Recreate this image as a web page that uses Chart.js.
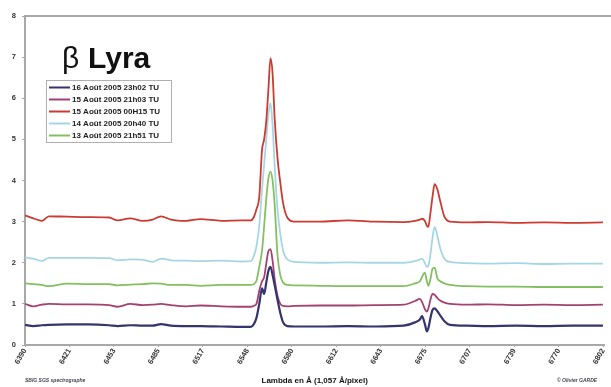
<!DOCTYPE html>
<html>
<head>
<meta charset="utf-8">
<script src="https://cdn.jsdelivr.net/npm/chart.js@4.4.1/dist/chart.umd.min.js"></script>
<style>
  html, body { margin: 0; padding: 0; background: #fff; }
  #wrap { width: 611px; height: 387px; }
</style>
</head>
<body>
<div id="wrap"><canvas id="spectre" width="611" height="387"></canvas></div>
<script>
// Wavelengths (Angstrom) sampled along the spectra
const lambda = [
    6390, 6396, 6402, 6407, 6420, 6435, 6450, 6456, 6465, 6474,
    6481, 6487, 6494, 6505, 6515, 6530, 6545, 6551, 6553, 6555,
    6557, 6559, 6560.5, 6562, 6563.5, 6565, 6566.5, 6568, 6570, 6572,
    6574, 6577, 6582, 6600, 6620, 6640, 6660, 6668, 6671.5, 6673,
    6675, 6676.5, 6677.5, 6679, 6680.5, 6682, 6684, 6686, 6689, 6693,
    6705, 6720, 6740, 6760, 6780, 6802
];

// Relative intensity, one array per night
const aout16 = [
    0.49, 0.46, 0.48, 0.49, 0.50, 0.50, 0.48, 0.46, 0.48, 0.47,
    0.47, 0.51, 0.47, 0.46, 0.46, 0.45, 0.44, 0.44, 0.50, 0.66,
    1.00, 1.38, 1.24, 1.52, 1.80, 1.90, 1.70, 1.45, 1.10, 0.78,
    0.55, 0.46, 0.45, 0.45, 0.46, 0.45, 0.47, 0.55, 0.62, 0.70,
    0.52, 0.33, 0.40, 0.65, 0.85, 0.89, 0.82, 0.72, 0.58, 0.49,
    0.47, 0.46, 0.47, 0.46, 0.47, 0.47
];
const aout15b = [
    1.00, 0.94, 0.98, 1.00, 0.99, 0.99, 0.97, 0.93, 1.00, 0.97,
    0.98, 1.00, 0.97, 0.94, 0.96, 0.94, 0.93, 0.93, 0.95, 1.00,
    1.32, 1.55, 1.65, 1.98, 2.28, 2.33, 2.05, 1.60, 1.20, 1.00,
    0.95, 0.94, 0.95, 0.96, 0.96, 0.97, 0.98, 1.07, 1.12, 1.05,
    0.88, 0.81, 0.88, 1.10, 1.24, 1.22, 1.14, 1.08, 1.03, 1.00,
    0.98, 0.99, 0.97, 0.98, 0.97, 0.98
];
const aout15a = [
    3.15, 3.08, 3.02, 3.13, 3.12, 3.11, 3.10, 3.03, 3.08, 3.02,
    3.05, 3.13, 3.05, 3.02, 3.06, 3.02, 3.03, 3.03, 3.10, 3.30,
    3.60, 4.75, 5.00, 5.45, 6.20, 6.97, 6.60, 5.50, 4.55, 3.95,
    3.45, 3.10, 3.00, 3.00, 3.03, 3.00, 2.99, 3.02, 3.05, 3.07,
    3.02, 2.90, 2.87, 3.20, 3.60, 3.91, 3.78, 3.50, 3.12, 3.00,
    2.98, 2.99, 2.97, 2.98, 2.97, 2.98
];
const aout14 = [
    2.13, 2.10, 2.04, 2.12, 2.12, 2.12, 2.11, 2.06, 2.08, 2.07,
    2.02, 2.10, 2.06, 2.05, 2.04, 2.05, 2.03, 2.04, 2.15, 2.40,
    2.90, 3.80, 4.40, 5.00, 5.60, 5.88, 5.35, 4.35, 3.30, 2.70,
    2.30, 2.08, 2.02, 2.00, 2.01, 2.00, 2.00, 2.04, 2.08, 2.10,
    2.00, 1.90, 1.92, 2.20, 2.60, 2.87, 2.65, 2.35, 2.10, 2.02,
    1.99, 1.98, 1.99, 1.97, 1.98, 1.98
];
const aout13 = [
    1.50, 1.48, 1.46, 1.43, 1.49, 1.48, 1.48, 1.45, 1.47, 1.48,
    1.50, 1.49, 1.46, 1.46, 1.44, 1.46, 1.46, 1.46, 1.48, 1.56,
    1.90, 2.30, 2.90, 3.55, 4.05, 4.21, 4.00, 3.40, 2.20, 1.70,
    1.52, 1.46, 1.45, 1.44, 1.43, 1.43, 1.43, 1.50, 1.55, 1.65,
    1.76, 1.55, 1.44, 1.60, 1.85, 1.88, 1.62, 1.55, 1.50, 1.46,
    1.43, 1.42, 1.42, 1.41, 1.41, 1.41
];

const seriesLabels = [
    "16 Août 2005 23h02 TU",
    "15 Août 2005 21h03 TU",
    "15 Août 2005 00H15 TU",
    "14 Août 2005 20h40 TU",
    "13 Août 2005 21h51 TU"
];
const seriesColors = ["#34346e", "#a34272", "#cc3b32", "#a6d6e4", "#84c062"];

// X ticks every 30 pixels (1,057 A/pixel)
const tickValues = [6390, 6421.7, 6453.4, 6485.1, 6516.8, 6548.6, 6580.3, 6612, 6643.7, 6675.4, 6707.1, 6738.8, 6770.5, 6802.2];
const tickLabels = ["6390", "6421", "6453", "6485", "6517", "6548", "6580", "6612", "6643", "6675", "6707", "6739", "6770", "6802"];

const allSeries = [aout16, aout15b, aout15a, aout14, aout13];

function toPoints(values) {
    return values.map((v, i) => ({ x: lambda[i], y: v }));
}

// Title, legend box, top frame and footer notes
const decorPlugin = {
    id: "decor",
    afterDraw(chart) {
        const ctx = chart.ctx;
        const area = chart.chartArea;
        ctx.save();

        // top border of the plot
        ctx.strokeStyle = "#a8a8a8";
        ctx.lineWidth = 2;
        ctx.beginPath();
        ctx.moveTo(area.left, area.top);
        ctx.lineTo(chart.width, area.top);
        ctx.stroke();

        // big title
        ctx.fillStyle = "#111";
        ctx.textBaseline = "alphabetic";
        ctx.textAlign = "left";
        ctx.font = "30px 'Liberation Sans', Arial, sans-serif";
        ctx.fillText("β", 62, 68);
        ctx.font = "bold 30px 'Liberation Sans', Arial, sans-serif";
        ctx.fillText("Lyra", 88, 68);

        // legend
        const bx = 46, by = 80, bw = 125, bh = 62;
        ctx.fillStyle = "#fff";
        ctx.fillRect(bx, by, bw, bh);
        ctx.strokeStyle = "#b0b0b0";
        ctx.lineWidth = 1;
        ctx.strokeRect(bx + 0.5, by + 0.5, bw, bh);
        ctx.font = "bold 8px 'Liberation Sans', Arial, sans-serif";
        ctx.textBaseline = "middle";
        chart.data.datasets.forEach((ds, i) => {
            const y = by + 7.5 + i * 12;
            ctx.strokeStyle = ds.borderColor;
            ctx.lineWidth = 2;
            ctx.beginPath();
            ctx.moveTo(bx + 3, y);
            ctx.lineTo(bx + 24, y);
            ctx.stroke();
            ctx.fillStyle = "#222";
            ctx.fillText(ds.label, bx + 26, y);
        });

        // footer notes
        ctx.font = "italic bold 5px 'Liberation Sans', Arial, sans-serif";
        ctx.fillStyle = "#445";
        ctx.textBaseline = "alphabetic";
        ctx.fillText("SBIG SGS spectrographe", 25, 382);
        ctx.fillText("© Olivier GARDE", 557, 382);
        ctx.restore();
    }
};

const ctx = document.getElementById("spectre").getContext("2d");
new Chart(ctx, {
    type: "line",
    data: {
        datasets: allSeries.map((values, i) => ({
            label: seriesLabels[i],
            data: toPoints(values),
            borderColor: seriesColors[i],
            borderWidth: i === 0 ? 2.2 : 1.8,
            pointRadius: 0,
            tension: 0.25,
            cubicInterpolationMode: "monotone",
            fill: false
        }))
    },
    options: {
        responsive: false,
        animation: false,
        layout: { padding: { top: 16, right: 0, left: 0, bottom: 0 } },
        plugins: {
            legend: { display: false },
            tooltip: { enabled: false }
        },
        scales: {
            x: {
                type: "linear",
                min: 6390,
                max: 6803,
                afterBuildTicks: (axis) => {
                    axis.ticks = tickValues.map((v) => ({ value: v }));
                },
                afterFit: (axis) => {
                    axis.height = 42;
                },
                ticks: {
                    autoSkip: false,
                    minRotation: 60,
                    maxRotation: 60,
                    padding: 0,
                    color: "#333",
                    font: { size: 7.5, weight: "bold", family: "'Liberation Sans', Arial, sans-serif" },
                    callback: (value, index) => tickLabels[index]
                },
                grid: { drawOnChartArea: false, drawTicks: true, tickLength: 2, color: "#a8a8a8" },
                border: { color: "#a8a8a8", width: 2 },
                title: {
                    display: true,
                    text: "Lambda en Å (1,057 Å/pixel)",
                    color: "#111",
                    padding: { top: 0, bottom: 1 },
                    font: { size: 8, weight: "bold", family: "'Liberation Sans', Arial, sans-serif" }
                }
            },
            y: {
                min: 0,
                max: 8,
                afterFit: (axis) => {
                    axis.width = 25;
                },
                ticks: {
                    stepSize: 1,
                    padding: 6,
                    color: "#333",
                    font: { size: 7.5, weight: "bold", family: "'Liberation Sans', Arial, sans-serif" }
                },
                grid: { drawOnChartArea: false, drawTicks: true, tickLength: 3, color: "#a8a8a8" },
                border: { color: "#a8a8a8", width: 2 }
            }
        }
    },
    plugins: [decorPlugin]
});
</script>
</body>
</html>
